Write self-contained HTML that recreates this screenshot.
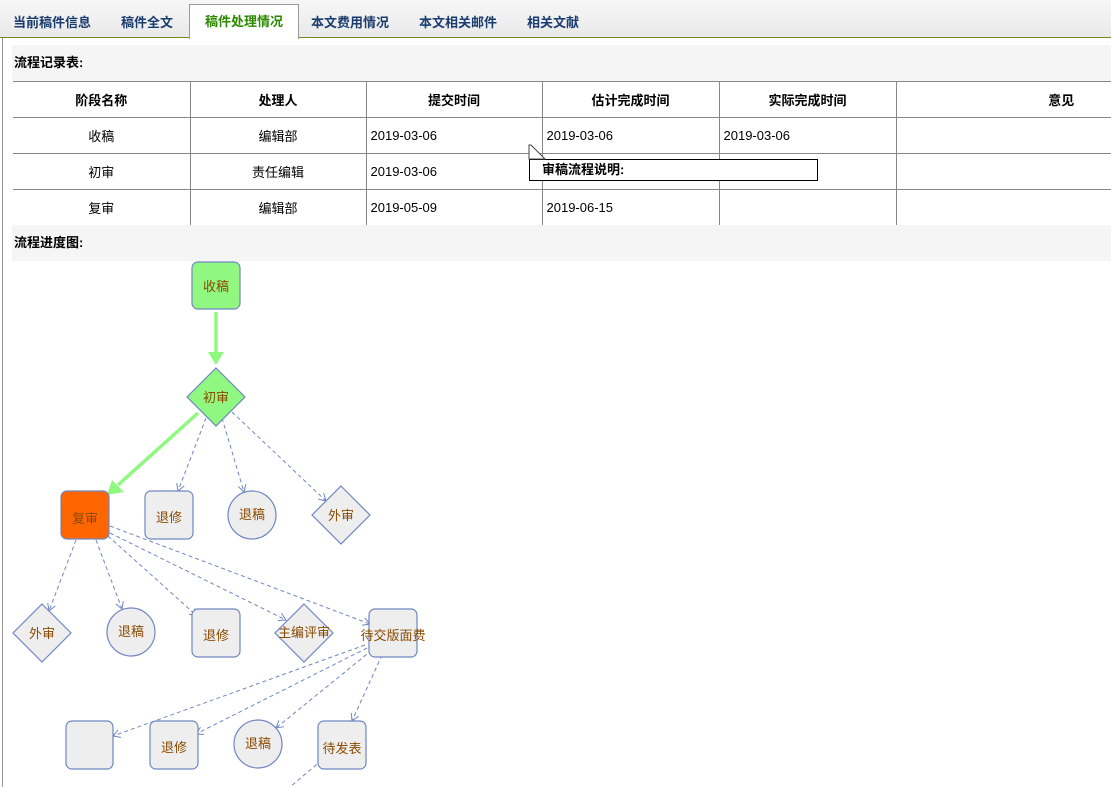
<!DOCTYPE html>
<html><head><meta charset="utf-8"><style>
body{margin:0;width:1111px;height:787px;overflow:hidden;background:#fff;font-family:"Liberation Sans","Noto Sans CJK SC",sans-serif;position:relative}
.tabs{position:absolute;left:0;top:0;width:1111px;height:37px;background:linear-gradient(#f7f7f7,#e9e9e9);border-bottom:1px solid #7a8a1a}
.tab{position:absolute;top:12px;font-size:13px;font-weight:bold;color:#1a3c6e}
.act{position:absolute;left:189px;top:4px;width:108px;height:34px;background:#fff;border:1px solid #999;border-bottom:none;text-align:center;line-height:34px;font-size:13px;font-weight:bold;color:#2b8a00}
.lb{position:absolute;left:2px;top:38px;width:1px;height:749px;background:#999}
.sec{position:absolute;left:12px;width:1099px;height:36px;background:#f5f5f5;font-size:13px;font-weight:bold;line-height:36px;padding-left:2px;box-sizing:border-box}
table{position:absolute;left:13px;top:81px;border-collapse:collapse;font-size:13px;width:1213px;table-layout:fixed}
td,th{height:35px;padding:0 4px;border-top:1px solid #888;border-bottom:1px solid #888;border-left:1px solid #888}
td:first-child,th:first-child{border-left:none}
th{font-weight:bold;text-align:center;padding:0}
.c{text-align:center}
.tip{position:absolute;left:529px;top:159px;width:275px;height:20px;border:1px solid #000;background:#fff;font-size:13px;font-weight:bold;line-height:20px;padding-left:12px}
</style></head><body>
<div class="tabs"></div>
<div class="tab" style="left:13px">当前稿件信息</div>
<div class="tab" style="left:121px">稿件全文</div>
<div class="act">稿件处理情况</div>
<div class="tab" style="left:311px">本文费用情况</div>
<div class="tab" style="left:419px">本文相关邮件</div>
<div class="tab" style="left:527px">相关文献</div>
<div class="lb"></div>
<div class="sec" style="top:45px">流程记录表:</div>
<table>
<colgroup><col style="width:177px"><col style="width:176px"><col style="width:176px"><col style="width:177px"><col style="width:177px"><col style="width:330px"></colgroup>
<tr><th>阶段名称</th><th>处理人</th><th>提交时间</th><th>估计完成时间</th><th>实际完成时间</th><th>意见</th></tr>
<tr><td class="c">收稿</td><td class="c">编辑部</td><td>2019-03-06</td><td>2019-03-06</td><td>2019-03-06</td><td></td></tr>
<tr><td class="c">初审</td><td class="c">责任编辑</td><td>2019-03-06</td><td></td><td></td><td></td></tr>
<tr><td class="c">复审</td><td class="c">编辑部</td><td>2019-05-09</td><td>2019-06-15</td><td></td><td></td></tr>
</table>
<div class="sec" style="top:225px">流程进度图:</div>
<div class="tip">审稿流程说明:</div>
<svg style="position:absolute;left:0;top:0" width="1111" height="787">
<polygon points="529,145 531,145 545,159 529,159" fill="#fff" stroke="#444" stroke-width="1"/>
<defs>
<marker id="a" markerWidth="10" markerHeight="10" refX="8" refY="5" orient="auto" markerUnits="userSpaceOnUse"><path d="M1,1 L8,5 L1,9" fill="none" stroke="#6f86c0" stroke-width="1"/></marker>
</defs>
<g stroke="#90f880" stroke-width="3.5" fill="#90f880">
<line x1="216" y1="312" x2="216" y2="352"/><polygon points="208,352 224,352 216,365" stroke="none"/>
<line x1="198" y1="413" x2="118" y2="485"/><polygon points="112,480 124,492 107,495" stroke="none"/>
</g>
<g stroke="#6f86c0" stroke-width="1" stroke-dasharray="4,3" fill="none" marker-end="url(#a)">
<line x1="206" y1="418" x2="178" y2="491"/>
<line x1="222" y1="418" x2="244" y2="492"/>
<line x1="232" y1="412" x2="326" y2="501"/>
<line x1="76" y1="540" x2="49" y2="611"/>
<line x1="96" y1="540" x2="122" y2="609"/>
<line x1="108" y1="536" x2="197" y2="616"/>
<line x1="110" y1="533" x2="286" y2="620"/>
<line x1="110" y1="526" x2="370" y2="624"/>
<line x1="365" y1="645" x2="113" y2="736"/>
<line x1="367" y1="648" x2="196" y2="734"/>
<line x1="372" y1="650" x2="276" y2="728"/>
<line x1="382" y1="655" x2="352" y2="721"/>
</g>
<line x1="322" y1="760" x2="290" y2="787" stroke="#6f86c0" stroke-dasharray="4,3"/>
<g stroke="#6f86c0" stroke-width="1.2">
<rect x="192" y="262" width="48" height="47" rx="6" fill="#90f880"/>
<polygon points="216,368 245,397 216,426 187,397" fill="#90f880"/>
<rect x="61" y="491" width="48" height="48" rx="6" fill="#ff6600"/>
<rect x="145" y="491" width="48" height="48" rx="6" fill="#eeeeee"/>
<circle cx="252" cy="515" r="24" fill="#eeeeee"/>
<polygon points="341,486 370,515 341,544 312,515" fill="#eeeeee"/>
<polygon points="42,604 71,633 42,662 13,633" fill="#eeeeee"/>
<circle cx="131" cy="632" r="24" fill="#eeeeee"/>
<rect x="192" y="609" width="48" height="48" rx="6" fill="#eeeeee"/>
<polygon points="304,604 333,633 304,662 275,633" fill="#eeeeee"/>
<rect x="369" y="609" width="48" height="48" rx="6" fill="#eeeeee"/>
<rect x="66" y="721" width="47" height="48" rx="6" fill="#eeeeee"/>
<rect x="150" y="721" width="48" height="48" rx="6" fill="#eeeeee"/>
<circle cx="258" cy="744" r="24" fill="#eeeeee"/>
<rect x="318" y="721" width="48" height="48" rx="6" fill="#eeeeee"/>
</g>
<g font-size="13" fill="#8b4a00" text-anchor="middle" font-family="Liberation Sans, Noto Sans CJK SC, sans-serif">
<text x="216" y="291">收稿</text>
<text x="216" y="402">初审</text>
<text x="85" y="523">复审</text>
<text x="169" y="522">退修</text>
<text x="252" y="519">退稿</text>
<text x="341" y="520">外审</text>
<text x="42" y="638">外审</text>
<text x="131" y="636">退稿</text>
<text x="216" y="640">退修</text>
<text x="304" y="637">主编评审</text>
<text x="393" y="640">待交版面费</text>
<text x="174" y="752">退修</text>
<text x="258" y="748">退稿</text>
<text x="342" y="753">待发表</text>
</g>
</svg>
</body></html>
